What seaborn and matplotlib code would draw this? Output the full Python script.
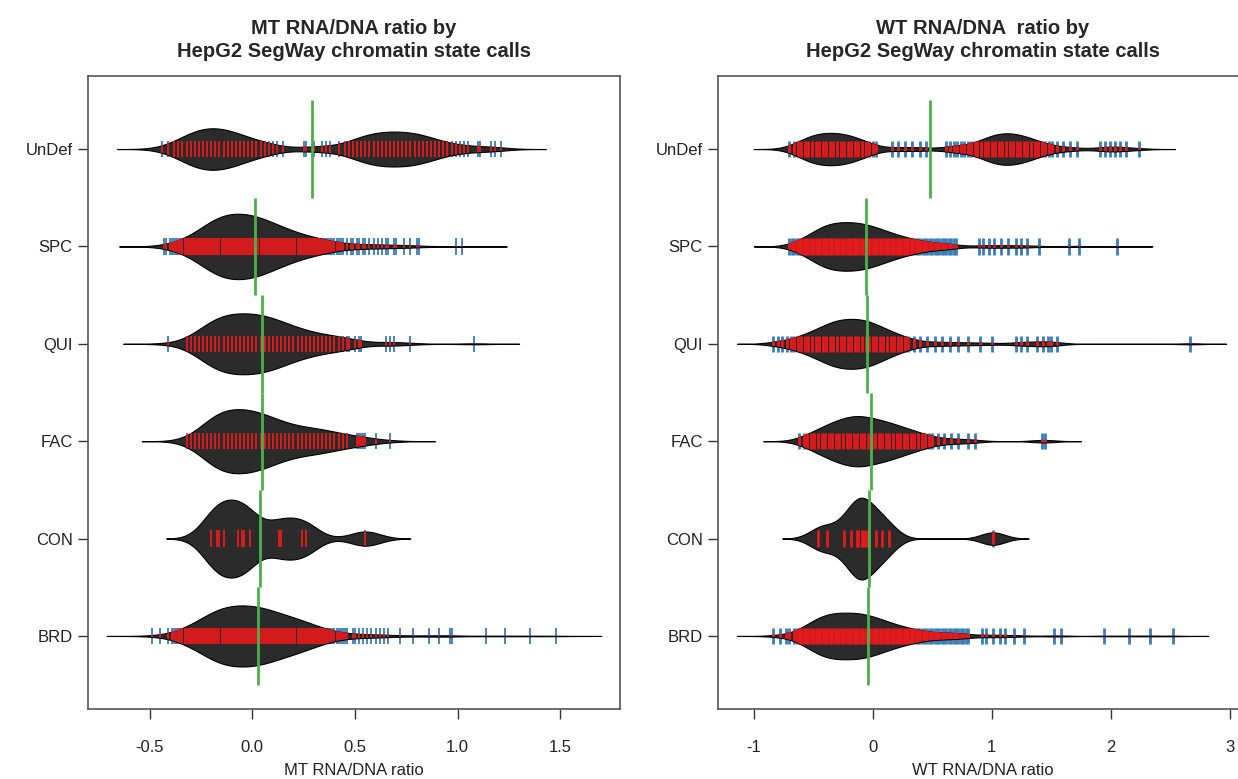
import numpy as np
import pandas as pd
import matplotlib
matplotlib.use("Agg")
import matplotlib.pyplot as plt
from matplotlib.patches import PathPatch
import seaborn as sns

states = ["UnDef", "SPC", "QUI", "FAC", "CON", "BRD"]

# ---- MT RNA/DNA ratio: observed values (x) and how many regions sit at each (n)
mt_undef_x = [-0.44, -0.41, -0.38, -0.36, -0.34, -0.32, -0.30, -0.28, -0.26, -0.24, -0.22, -0.20, -0.18, -0.16,
              -0.14, -0.12, -0.10, -0.08, -0.06, -0.04, -0.02, 0.00, 0.02, 0.04, 0.06, 0.08, 0.10, 0.12, 0.15,
              0.25, 0.26, 0.30, 0.34, 0.36, 0.38, 0.42, 0.45,
              0.47, 0.49, 0.51, 0.53, 0.55, 0.57, 0.59, 0.61, 0.63, 0.65, 0.67, 0.69, 0.71, 0.73, 0.75, 0.77,
              0.79, 0.81, 0.83, 0.85, 0.87, 0.89, 0.91, 0.93, 0.95, 0.97, 0.99,
              1.01, 1.03, 1.05, 1.10, 1.11, 1.16, 1.18, 1.21]
mt_undef_n = [1, 1, 2, 2, 3, 3, 4, 5, 5, 5, 5, 5, 5, 5, 5, 5, 4, 4, 3, 3, 3, 2, 2, 2, 2, 1, 1, 1, 1,
              1, 1, 1, 1, 1, 1, 1, 1,
              2, 2, 3, 3, 3, 4, 4, 4, 4, 4, 4, 4, 4, 4, 4, 4, 4, 4, 3, 3, 3, 2, 2, 2, 1, 1, 1,
              1, 1, 1, 1, 1, 1, 1, 1]

mt_spc_x = [-0.43, -0.42,
            -0.40, -0.39, -0.38, -0.37, -0.36, -0.35, -0.34, -0.33, -0.32, -0.31, -0.30, -0.29, -0.28, -0.27, -0.26,
            -0.25, -0.24, -0.23, -0.22, -0.21, -0.20, -0.19, -0.18, -0.17, -0.16, -0.15, -0.14, -0.13, -0.12, -0.11,
            -0.10, -0.09, -0.08, -0.07, -0.06, -0.05, -0.04, -0.03, -0.02, -0.01, 0.00, 0.01, 0.02, 0.03, 0.04,
            0.05, 0.06, 0.07, 0.08, 0.09, 0.10, 0.11, 0.12, 0.13, 0.14, 0.15, 0.16, 0.17, 0.18, 0.19,
            0.20, 0.21, 0.22, 0.23, 0.24, 0.25, 0.26, 0.27, 0.28, 0.29, 0.30, 0.31, 0.32, 0.33, 0.34,
            0.35, 0.36, 0.37, 0.38, 0.39, 0.40, 0.41, 0.42, 0.43, 0.44,
            0.46, 0.48, 0.49, 0.51, 0.52, 0.54, 0.55, 0.57, 0.59, 0.61, 0.63, 0.65, 0.66, 0.69, 0.70, 0.74,
            0.77, 0.80, 0.81, 0.99, 1.02]
mt_spc_n = [1, 1,
            1, 1, 1, 1, 1, 1, 2, 2, 2, 2, 3, 3, 3, 4, 4,
            5, 5, 6, 6, 7, 7, 8, 8, 9, 9, 9, 9, 9, 9, 9,
            9, 9, 9, 9, 9, 9, 9, 9, 9, 9, 9, 9, 8, 8, 8,
            8, 7, 7, 7, 7, 6, 6, 6, 6, 5, 5, 5, 5, 4, 4,
            4, 4, 4, 3, 3, 3, 3, 3, 3, 3, 2, 2, 2, 2, 2,
            2, 2, 2, 2, 1, 1, 1, 1, 1, 1,
            1, 1, 1, 1, 1, 1, 1, 1, 1, 1, 1, 1, 1, 1, 1, 1,
            1, 1, 1, 1, 1]

mt_qui_x = [-0.41, -0.32, -0.30, -0.28, -0.26, -0.24, -0.22, -0.20, -0.18, -0.16, -0.14, -0.12, -0.10, -0.08,
            -0.06, -0.04, -0.02, 0.00, 0.02, 0.04, 0.06, 0.08, 0.10, 0.12, 0.14, 0.16, 0.18, 0.20, 0.22,
            0.24, 0.26, 0.28, 0.30, 0.32, 0.34, 0.36, 0.38, 0.40, 0.42, 0.44, 0.46,
            0.47, 0.50, 0.52, 0.53, 0.65, 0.67, 0.69, 0.77, 1.08]
mt_qui_n = [1, 1, 2, 2, 3, 4, 5, 6, 6, 7, 7, 7, 7, 7, 7, 7, 7, 7, 7, 7, 7, 6, 6, 6, 5, 5, 4, 4, 4,
            3, 3, 3, 3, 2, 2, 2, 2, 2, 2, 2, 1,
            1, 1, 1, 1, 1, 1, 1, 1, 1]

mt_fac_x = [-0.32, -0.30, -0.28, -0.26, -0.24, -0.22, -0.20, -0.18, -0.16, -0.14, -0.12, -0.10, -0.08, -0.06,
            -0.04, -0.02, 0.00, 0.02, 0.04, 0.06, 0.08, 0.10, 0.12, 0.14, 0.16, 0.18, 0.20, 0.22, 0.24,
            0.26, 0.28, 0.30, 0.32, 0.34, 0.36, 0.38, 0.40, 0.42, 0.44, 0.46,
            0.51, 0.52, 0.53, 0.54, 0.55, 0.60, 0.67]
mt_fac_n = [1, 1, 1, 2, 3, 5, 6, 7, 7, 7, 7, 7, 7, 7, 7, 7, 7, 7, 6, 6, 5, 5, 5, 4, 4, 4, 3, 3, 3,
            3, 3, 3, 3, 3, 2, 2, 2, 2, 2, 2,
            1, 1, 1, 1, 1, 1, 1]

mt_con_x = [-0.20, -0.17, -0.16, -0.14, -0.07, -0.05, -0.04, -0.01, 0.13, 0.14, 0.24, 0.26, 0.55]
mt_con_n = [1, 1, 1, 1, 1, 1, 1, 1, 1, 1, 1, 1, 1]

mt_brd_x = [-0.49, -0.45, -0.41, -0.39,
            -0.38, -0.37, -0.36, -0.35, -0.34, -0.33, -0.32, -0.31, -0.30, -0.29, -0.28, -0.27, -0.26, -0.25,
            -0.24, -0.23, -0.22, -0.21, -0.20, -0.19, -0.18, -0.17, -0.16, -0.15, -0.14, -0.13, -0.12, -0.11,
            -0.10, -0.09, -0.08, -0.07, -0.06, -0.05, -0.04, -0.03, -0.02, -0.01, 0.00, 0.01, 0.02, 0.03,
            0.04, 0.05, 0.06, 0.07, 0.08, 0.09, 0.10, 0.11, 0.12, 0.13, 0.14, 0.15, 0.16, 0.17, 0.18, 0.19,
            0.20, 0.21, 0.22, 0.23, 0.24, 0.25, 0.26, 0.27, 0.28, 0.29, 0.30, 0.31, 0.32, 0.33, 0.34, 0.35,
            0.36, 0.37, 0.38, 0.39, 0.40, 0.41, 0.42, 0.43, 0.44, 0.45, 0.46,
            0.49, 0.50, 0.52, 0.54, 0.56, 0.58, 0.60, 0.62, 0.64, 0.66, 0.72, 0.78, 0.86, 0.91, 0.96, 0.97,
            1.14, 1.23, 1.35, 1.48]
mt_brd_n = [1, 1, 1, 1,
            1, 1, 1, 2, 2,
            2, 3, 3, 3, 4,
            3, 4, 4, 5, 5,
            6, 6, 7, 7, 8,
            8, 8, 9, 9, 9,
            9, 9, 9, 9, 9,
            9, 9, 9, 9, 9,
            9, 9, 9, 9, 9,
            9, 9, 9, 9, 8,
            8, 8, 8, 7, 7,
            7, 6, 6, 6, 6,
            6, 6, 6, 6, 5,
            5, 5, 5, 4, 4,
            4, 4, 4, 4, 3,
            2, 2, 2, 2, 2,
            2, 2, 1, 1, 1,
            1, 1, 1, 1, 1,
            1, 1, 1, 1, 1, 1, 1, 1, 1, 1, 1, 1, 1, 1, 1, 1,
            1, 1, 1, 1]

# ---- WT RNA/DNA ratio
wt_undef_x = [-0.70, -0.66, -0.63, -0.60, -0.57, -0.54, -0.51, -0.48, -0.45, -0.42, -0.39, -0.36, -0.33,
              -0.30, -0.27, -0.24, -0.21, -0.18, -0.15, -0.12, -0.09, -0.06, -0.03, 0.00, 0.03,
              0.16, 0.21, 0.27, 0.33, 0.40, 0.45, 0.62, 0.65, 0.68, 0.71, 0.74, 0.77, 0.80, 0.83, 0.86,
              0.88, 0.91, 0.94, 0.97, 1.00, 1.03, 1.06, 1.09, 1.12, 1.15, 1.18, 1.21, 1.24, 1.27, 1.30,
              1.33, 1.36, 1.39, 1.42,
              1.45, 1.48, 1.51, 1.55, 1.60, 1.66, 1.72, 1.91, 1.95, 1.99, 2.04, 2.08, 2.13, 2.24]
wt_undef_n = [1, 1, 2, 2, 3, 3, 4, 4, 4, 4, 4, 4, 4, 4, 4, 4, 4, 3, 3, 3, 2, 2, 2, 1, 1,
              1, 1, 1, 1, 1, 1, 1, 1, 1, 1, 1, 1, 1, 1, 1,
              1, 2, 3, 3, 4, 4, 4, 4, 4, 4, 4, 4, 4, 3, 3, 3, 2, 2, 2,
              1, 1, 1, 1, 1, 1, 1, 1, 1, 1, 1, 1, 1, 1]

wt_spc_x = [-0.70, -0.68, -0.66, -0.64, -0.62, -0.60, -0.58, -0.56, -0.54, -0.52, -0.50, -0.48, -0.46,
            -0.44, -0.42, -0.40, -0.38, -0.36, -0.34, -0.32, -0.30, -0.28, -0.26, -0.24, -0.22, -0.20,
            -0.18, -0.16, -0.14, -0.12, -0.10, -0.08, -0.06, -0.04, -0.02, 0.00, 0.02, 0.04, 0.06, 0.08,
            0.10, 0.12, 0.14, 0.16, 0.18, 0.20, 0.22, 0.24, 0.26, 0.28, 0.30, 0.32, 0.34, 0.36, 0.38,
            0.40, 0.42, 0.44, 0.46, 0.48, 0.50,
            0.52, 0.54, 0.56, 0.58, 0.60, 0.62, 0.64, 0.66, 0.68, 0.70, 0.89, 0.93, 0.98, 1.02, 1.08, 1.14,
            1.20, 1.25, 1.30, 1.40, 1.65, 1.73, 2.05]
wt_spc_n = [1, 1, 1, 1, 2, 2, 2, 3, 3, 4, 4, 5, 5, 6, 6, 7, 7, 7, 7, 7, 7, 7, 7, 7, 7, 7,
            7, 7, 7, 7, 7, 7, 7, 6, 6, 6, 6, 5, 5, 5, 5, 4, 4, 4, 4, 3, 3, 3, 3, 3, 2,
            2, 2, 2, 2, 2, 2, 1, 1, 1, 1,
            1, 1, 1, 1, 1, 1, 1, 1, 1, 1, 1, 1, 1, 1, 1, 1,
            1, 1, 1, 1, 1, 1, 1]

wt_qui_x = [-0.84, -0.80, -0.76, -0.72, -0.69, -0.66, -0.63, -0.60, -0.57, -0.54, -0.51, -0.48, -0.45,
            -0.42, -0.39, -0.36, -0.33, -0.30, -0.27, -0.24, -0.21, -0.18, -0.15, -0.12, -0.09, -0.06,
            -0.03, 0.00, 0.03, 0.06, 0.09, 0.12, 0.15, 0.18, 0.21, 0.24, 0.27, 0.30,
            0.35, 0.40, 0.46, 0.52, 0.58, 0.65, 0.72, 0.80, 0.90, 1.00, 1.20, 1.25, 1.30, 1.38, 1.43,
            1.47, 1.50, 1.55, 2.67]
wt_qui_n = [1, 1, 1, 1, 1, 1, 2, 2, 2, 3, 3, 3, 4, 4, 5, 5, 6, 6, 6, 6, 6, 6, 6, 6, 6, 6,
            6, 5, 5, 4, 4, 3, 3, 3, 2, 2, 2, 2,
            1, 1, 1, 1, 1, 1, 1, 1, 1, 1, 1, 1, 1, 1, 1,
            1, 1, 1, 1]

wt_fac_x = [-0.62, -0.58, -0.55, -0.52, -0.49, -0.46, -0.43, -0.40, -0.37, -0.34, -0.31, -0.28, -0.25,
            -0.22, -0.19, -0.16, -0.13, -0.10, -0.07, -0.04, -0.01, 0.02, 0.05, 0.08, 0.11, 0.14, 0.17,
            0.20, 0.23, 0.26, 0.29, 0.32, 0.35, 0.38, 0.41, 0.44, 0.47, 0.50, 0.55, 0.60, 0.66, 0.72,
            0.80, 0.86, 1.42, 1.45]
wt_fac_n = [1, 1, 1, 2, 2, 2, 3, 3, 3, 4, 4, 4, 4, 5, 5, 5, 5, 5, 5, 5, 4, 4, 4, 4, 4, 4, 3,
            3, 3, 3, 2, 2, 2, 2, 2, 1, 1, 1, 1, 1, 1, 1,
            1, 1, 1, 1]

wt_con_x = [-0.46, -0.38, -0.24, -0.18, -0.13, -0.12, -0.09, -0.07, -0.05, 0.03, 0.08, 0.14, 1.01]
wt_con_n = [1, 1, 1, 1, 1, 1, 1, 1, 1, 1, 1, 1, 1]

wt_brd_x = [-0.84, -0.78, -0.73, -0.70,
            -0.66, -0.64, -0.62, -0.60, -0.58, -0.56, -0.54, -0.52, -0.50, -0.48, -0.46, -0.44, -0.42,
            -0.40, -0.38, -0.36, -0.34, -0.32, -0.30, -0.28, -0.26, -0.24, -0.22, -0.20, -0.18, -0.16,
            -0.14, -0.12, -0.10, -0.08, -0.06, -0.04, -0.02, 0.00, 0.02, 0.04, 0.06, 0.08, 0.10, 0.12,
            0.14, 0.16, 0.18, 0.20, 0.22, 0.24, 0.26, 0.28, 0.30, 0.32, 0.34, 0.36, 0.38, 0.40, 0.42,
            0.44, 0.46, 0.48, 0.50,
            0.52, 0.54, 0.56, 0.58, 0.60, 0.62, 0.64, 0.66, 0.68, 0.70, 0.72, 0.74, 0.76, 0.78, 0.80,
            0.92, 0.95, 1.01, 1.07, 1.11, 1.19, 1.27, 1.52, 1.58, 1.94, 2.15, 2.33, 2.52]
wt_brd_n = [1, 1, 1, 1,
            1, 1, 2, 2, 3, 3, 4, 4, 5, 5, 6, 6, 7, 7, 7, 7, 7, 7, 7, 7, 7, 7, 7, 7, 7,
            7, 7, 7, 7, 7, 7, 7, 6, 6, 6, 5, 5, 5, 5, 4, 4, 4, 4, 3, 3, 3, 3, 3, 2, 2,
            2, 2, 2, 2, 2, 1, 1, 1, 1,
            1, 1, 1, 1, 1, 1, 1, 1, 1, 1, 1, 1, 1, 1, 1,
            1, 1, 1, 1, 1, 1, 1, 1, 1, 1, 1, 1, 1]

mt_groups = {"UnDef": (mt_undef_x, mt_undef_n), "SPC": (mt_spc_x, mt_spc_n), "QUI": (mt_qui_x, mt_qui_n),
             "FAC": (mt_fac_x, mt_fac_n), "CON": (mt_con_x, mt_con_n), "BRD": (mt_brd_x, mt_brd_n)}
wt_groups = {"UnDef": (wt_undef_x, wt_undef_n), "SPC": (wt_spc_x, wt_spc_n), "QUI": (wt_qui_x, wt_qui_n),
             "FAC": (wt_fac_x, wt_fac_n), "CON": (wt_con_x, wt_con_n), "BRD": (wt_brd_x, wt_brd_n)}

BEAN = "#2b2b2b"
RED = "#E41A1C"
BLUE = "#377EB8"
GREEN = "#4DAF4A"
TICK = 0.085  # half length of the bean lines


def long_table(groups):
    parts = []
    for state in states:
        xs, ns = groups[state]
        parts.append(pd.DataFrame({"state": state, "ratio": np.repeat(xs, ns)}))
    return pd.concat(parts, ignore_index=True)


def bean_panel(ax, groups, bw, width, line_w, title, xlabel, xlim, xticks, xticklabels):
    df = long_table(groups)
    # one common bandwidth for every bean, as beanplot does
    sns.violinplot(data=df, x="ratio", y="state", order=states, orient="h", color=BEAN,
                   saturation=1, linecolor="black", linewidth=0.8, inner=None, cut=3,
                   gridsize=600, density_norm="area", width=width,
                   bw_method=lambda k: bw / np.std(k.dataset, ddof=1), ax=ax)
    beans = list(ax.collections)
    for i, state in enumerate(states):
        xs = np.asarray(groups[state][0])
        # blue under the bean (only shows outside it), red on top clipped to the bean
        ax.vlines(xs, i - TICK, i + TICK, color=BLUE, lw=line_w, zorder=0.9)
        red = ax.vlines(xs, i - TICK, i + TICK, color=RED, lw=line_w, zorder=4)
        red.set_clip_path(PathPatch(beans[i].get_paths()[0], transform=ax.transData))
        avg = df.loc[df["state"] == state, "ratio"].mean()
        ax.vlines(avg, i - 0.5, i + 0.5, color=GREEN, lw=2, zorder=5)

    ax.set_xlim(*xlim)
    ax.set_ylim(5.75, -0.75)
    ax.set_xticks(xticks)
    ax.set_xticklabels(xticklabels)
    ax.set_title(title, fontsize=14.5, fontweight="bold", pad=14, linespacing=1.25)
    ax.set_xlabel(xlabel, fontsize=12, labelpad=6, color="#222222")
    ax.set_ylabel("")
    ax.tick_params(axis="both", length=7, width=1, color="#333333", labelsize=12, labelcolor="#222222")
    ax.tick_params(axis="x", pad=15)
    ax.tick_params(axis="y", pad=4)
    for sp in ax.spines.values():
        sp.set_color("#555555")
        sp.set_linewidth(1.2)
        sp.set_visible(True)


sns.set_style("ticks")
plt.rcParams["font.family"] = ["Liberation Sans", "DejaVu Sans"]

fig = plt.figure(figsize=(12.38, 7.79), dpi=100)
W, H = 1238, 779
ax1 = fig.add_axes([88 / W, 1 - 709 / H, (620 - 88) / W, (709 - 76) / H])
ax2 = fig.add_axes([718 / W, 1 - 709 / H, (1247 - 718) / W, (709 - 76) / H])

bean_panel(ax1, mt_groups, 0.073, 0.80, 1.3, "MT RNA/DNA ratio by\nHepG2 SegWay chromatin state calls",
           "MT RNA/DNA ratio", (-0.80, 1.79), [-0.5, 0, 0.5, 1.0, 1.5], ["-0.5", "0.0", "0.5", "1.0", "1.5"])
bean_panel(ax2, wt_groups, 0.10, 0.84, 2.0, "WT RNA/DNA  ratio by\nHepG2 SegWay chromatin state calls",
           "WT RNA/DNA ratio", (-1.30, 3.145), [-1, 0, 1, 2, 3], ["-1", "0", "1", "2", "3"])

fig.savefig("out.png", dpi=100)
